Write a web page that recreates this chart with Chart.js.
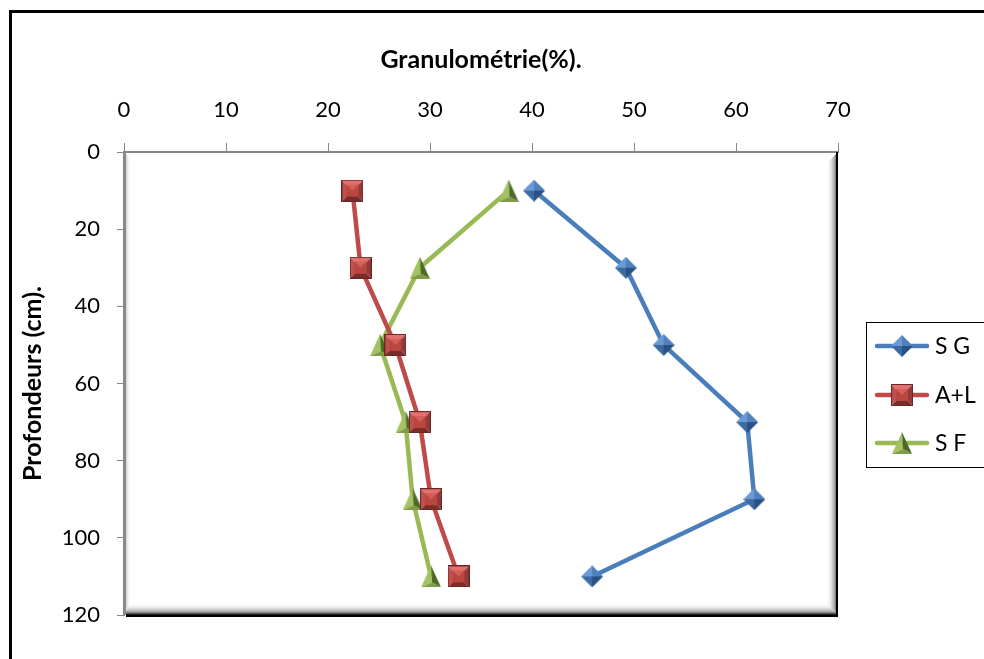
<!DOCTYPE html>
<html>
<head>
<meta charset="utf-8">
<script src="https://cdn.jsdelivr.net/npm/chart.js@4.4.0/dist/chart.umd.min.js"></script>
<style>
  html, body { margin: 0; padding: 0; background: #fff; }
  #wrap { width: 984px; height: 659px; position: relative; }
</style>
</head>
<body>
<div id="wrap"><canvas id="chart" width="984" height="659"></canvas></div>
<script>
// depths (cm) of the samples
var depths = [10, 30, 50, 70, 90, 110];
// granulometry values (%)
var sgValues = [40.2, 49.2, 52.9, 61.1, 61.8, 45.9];
var alValues = [22.4, 23.2, 26.6, 29.0, 30.1, 32.8];
var sfValues = [37.7, 29.0, 25.1, 27.6, 28.3, 30.1];
var seriesNames = ['S G', 'A+L', 'S F'];

var FONT = 'Lato, "Open Sans", sans-serif';

function pairs(vals) {
  var out = [];
  for (var i = 0; i < vals.length; i++) {
    out.push({ x: vals[i], y: depths[i] });
  }
  return out;
}

function face(ctx, pts, color) {
  ctx.beginPath();
  ctx.moveTo(pts[0][0], pts[0][1]);
  for (var i = 1; i < pts.length; i++) ctx.lineTo(pts[i][0], pts[i][1]);
  ctx.closePath();
  ctx.fillStyle = color;
  ctx.fill();
}

// little bevelled markers like the excel ones
function diamondMarker() {
  var c = document.createElement('canvas');
  c.width = 22; c.height = 22;
  var ctx = c.getContext('2d');
  var m = [11, 11];
  face(ctx, [[11, 0], [0, 11], m], '#6A9AD6');
  face(ctx, [[11, 0], [22, 11], m], '#4F81BD');
  face(ctx, [[0, 11], [11, 22], m], '#3C6AA3');
  face(ctx, [[22, 11], [11, 22], m], '#2B5084');
  return c;
}

function squareMarker() {
  var c = document.createElement('canvas');
  c.width = 22; c.height = 22;
  var ctx = c.getContext('2d');
  face(ctx, [[0, 0], [22, 0], [17, 5], [5, 5]], '#E2716D');
  face(ctx, [[0, 0], [5, 5], [5, 17], [0, 22]], '#C0504D');
  face(ctx, [[22, 0], [22, 22], [17, 17], [17, 5]], '#923A37');
  face(ctx, [[0, 22], [5, 17], [17, 17], [22, 22]], '#7A2C2A');
  face(ctx, [[5, 5], [17, 5], [17, 17], [5, 17]], '#B9463F');
  face(ctx, [[5, 5], [17, 5], [11, 11]], '#D45F5B');
  ctx.strokeStyle = '#6B2725';
  ctx.lineWidth = 1;
  ctx.strokeRect(0.5, 0.5, 21, 21);
  return c;
}

function triangleMarker() {
  var c = document.createElement('canvas');
  c.width = 20; c.height = 22;
  var ctx = c.getContext('2d');
  var m = [11, 17];
  face(ctx, [[10, 0], [0, 22], m], '#A3C263');
  face(ctx, [[10, 0], [20, 22], m], '#4E6826');
  face(ctx, [[0, 22], [20, 22], m], '#7E9B45');
  return c;
}

var sgMarker = diamondMarker();
var alMarker = squareMarker();
var sfMarker = triangleMarker();

// frame of the whole picture + bevelled plot area
var framePlugin = {
  id: 'frame',
  beforeDraw: function (chart) {
    var ctx = chart.ctx;
    ctx.save();
    ctx.fillStyle = '#fff';
    ctx.fillRect(0, 0, chart.width, chart.height);
    ctx.fillStyle = '#000';
    ctx.fillRect(9, 10, 3, chart.height - 10);
    ctx.fillRect(9, 10, chart.width - 9, 3);
    ctx.restore();
  },
  beforeDatasetsDraw: function (chart) {
    var a = chart.chartArea;
    var ctx = chart.ctx;
    var L = a.left, T = a.top, R = a.right, B = a.bottom;
    var d = 12;
    ctx.save();
    // left light bevel
    var g = ctx.createLinearGradient(L, 0, L + 7, 0);
    g.addColorStop(0, '#9a9a9a');
    g.addColorStop(0.35, '#d8d8d8');
    g.addColorStop(1, 'rgba(255,255,255,0)');
    ctx.fillStyle = g;
    ctx.beginPath();
    ctx.moveTo(L, T); ctx.lineTo(L + 7, T + 7); ctx.lineTo(L + 7, B - 7); ctx.lineTo(L, B);
    ctx.closePath(); ctx.fill();
    // right dark bevel
    g = ctx.createLinearGradient(R - d, 0, R, 0);
    g.addColorStop(0, 'rgba(255,255,255,0)');
    g.addColorStop(0.4, '#e6e6e6');
    g.addColorStop(0.75, '#a0a0a0');
    g.addColorStop(0.85, '#5a5a5a');
    g.addColorStop(1, '#000');
    ctx.fillStyle = g;
    ctx.beginPath();
    ctx.moveTo(R, T); ctx.lineTo(R, B); ctx.lineTo(R - d, B - d); ctx.lineTo(R - d, T + d);
    ctx.closePath(); ctx.fill();
    // bottom dark bevel
    g = ctx.createLinearGradient(0, B - d, 0, B);
    g.addColorStop(0, 'rgba(255,255,255,0)');
    g.addColorStop(0.4, '#e6e6e6');
    g.addColorStop(0.7, '#b0b0b0');
    g.addColorStop(0.85, '#6a6a6a');
    g.addColorStop(1, '#000');
    ctx.fillStyle = g;
    ctx.beginPath();
    ctx.moveTo(L, B); ctx.lineTo(R, B); ctx.lineTo(R - d, B - d); ctx.lineTo(L + 7, B - d);
    ctx.closePath(); ctx.fill();
    ctx.fillStyle = '#000';
    ctx.fillRect(R - 2, T, 2, B - T + 2);
    ctx.fillRect(L + 2, B, R - L - 2, 2);
    ctx.fillStyle = '#8a8a8a';
    ctx.fillRect(L, T, 2, B - T);
    ctx.restore();
  },
  afterDraw: function (chart) {
    // legend box on the right, drawn from the datasets
    var ctx = chart.ctx;
    ctx.save();
    ctx.strokeStyle = '#000';
    ctx.lineWidth = 1;
    ctx.strokeRect(866.5, 322.5, 140, 145);
    ctx.font = '23px ' + FONT;
    ctx.textBaseline = 'middle';
    ctx.textAlign = 'left';
    var rows = [346, 395, 443];
    chart.data.datasets.forEach(function (ds, i) {
      var y = rows[i];
      ctx.strokeStyle = ds.borderColor;
      ctx.lineWidth = 4.5;
      ctx.lineCap = 'round';
      ctx.beginPath();
      ctx.moveTo(877, y); ctx.lineTo(927, y);
      ctx.stroke();
      var img = ds.pointStyle;
      ctx.drawImage(img, 902 - img.width / 2, y - img.height / 2);
      ctx.fillStyle = '#000';
      ctx.fillText(ds.label, 935, y + 1);
    });
    ctx.restore();
  }
};

var ctx = document.getElementById('chart').getContext('2d');
var chart = new Chart(ctx, {
  type: 'line',
  data: {
    datasets: [{
      label: seriesNames[0],
      data: pairs(sgValues),
      borderColor: '#4A7EBB',
      backgroundColor: '#4F81BD',
      borderWidth: 4.5,
      pointStyle: sgMarker,
      pointRadius: 11
    }, {
      label: seriesNames[1],
      data: pairs(alValues),
      borderColor: '#BE4B48',
      backgroundColor: '#C0504D',
      borderWidth: 4.5,
      pointStyle: alMarker,
      pointRadius: 11
    }, {
      label: seriesNames[2],
      data: pairs(sfValues),
      borderColor: '#98B954',
      backgroundColor: '#9BBB59',
      borderWidth: 4.5,
      pointStyle: sfMarker,
      pointRadius: 11
    }]
  },
  options: {
    responsive: false,
    animation: false,
    devicePixelRatio: 1,
    layout: { padding: { left: 0, top: 0, right: 146, bottom: 44 } },
    plugins: {
      legend: { display: false },
      tooltip: { enabled: false }
    },
    scales: {
      x: {
        type: 'linear',
        position: 'top',
        min: 0,
        max: 70,
        ticks: { stepSize: 10, padding: 20, color: '#000', font: { family: FONT, size: 22 } },
        grid: { drawOnChartArea: false, tickLength: 9, color: '#868686' },
        border: { color: '#868686', width: 2 },
        title: {
          display: true,
          text: 'Granulométrie(%).',
          color: '#000',
          font: { family: FONT, size: 25, weight: 'bold' },
          padding: { top: 45, bottom: 0 }
        },
        afterFit: function (scale) { scale.height = 152; }
      },
      y: {
        type: 'linear',
        reverse: true,
        min: 0,
        max: 120,
        ticks: { stepSize: 20, padding: 17, color: '#000', font: { family: FONT, size: 22 } },
        grid: { drawOnChartArea: false, tickLength: 7, color: '#868686' },
        border: { color: '#868686', width: 2 },
        title: {
          display: true,
          text: 'Profondeurs (cm).',
          color: '#000',
          font: { family: FONT, size: 25, weight: 'bold' },
          padding: { top: 18, bottom: 0 }
        },
        afterFit: function (scale) { scale.width = 124; }
      }
    }
  },
  plugins: [framePlugin]
});
</script>
</body>
</html>
